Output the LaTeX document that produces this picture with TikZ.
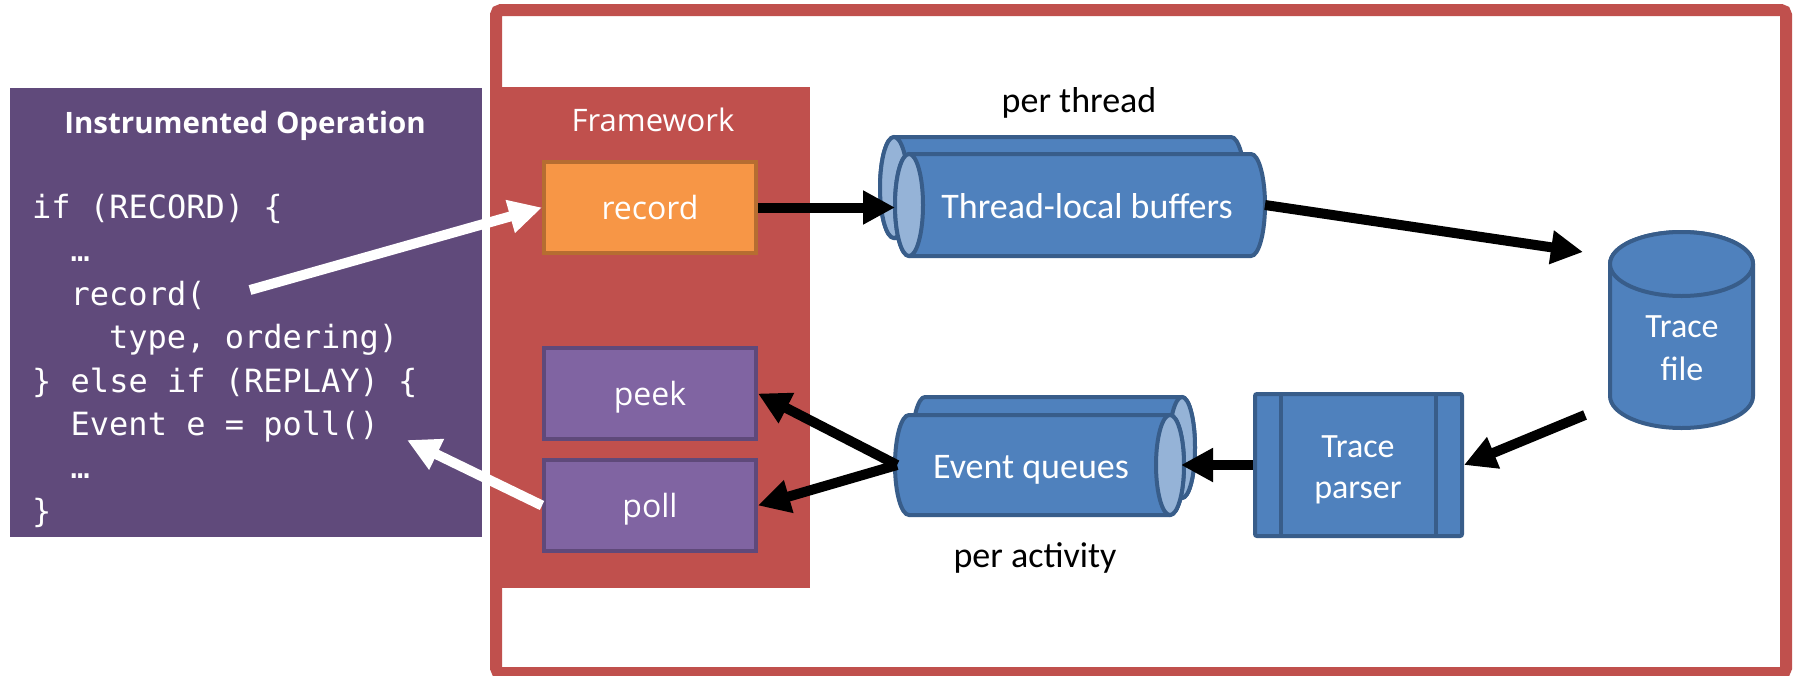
\documentclass[tikz,border=0pt]{standalone}
\usepackage{fontspec}
\setmainfont{Open Sans}
\newfontfamily\osfont{Open Sans}
\newfontfamily\calfont{Carlito}
\newfontfamily\codefont{DejaVu Sans Mono}
\usetikzlibrary{arrows.meta}
\definecolor{frameRed}{HTML}{C0504D}
\definecolor{codePurple}{HTML}{604A7B}
\definecolor{orangeF}{HTML}{F79646}
\definecolor{orangeD}{HTML}{B66D31}
\definecolor{purpF}{HTML}{8064A2}
\definecolor{purpD}{HTML}{5F497A}
\definecolor{blueF}{HTML}{4F81BD}
\definecolor{blueD}{HTML}{385D8A}
\definecolor{blueL}{HTML}{95B3D7}
\begin{document}
\begin{tikzpicture}[x=1pt,y=1pt,
  fwbox/.style={rectangle, minimum width=212pt, minimum height=91pt, inner sep=0pt,
    line width=4pt, text=white, font=\osfont\fontsize{32}{38}\selectfont,
    text height=23pt, text depth=0pt},
  recbox/.style={fwbox, fill=orangeF, draw=orangeD},
  ppbox/.style={fwbox, fill=purpF, draw=purpD},
  blk/.style={line width=10pt, draw=black, -{Triangle[length=32pt,width=32pt]}},
  wht/.style={line width=10pt, draw=white, -{Triangle[length=33pt,width=32pt]}},
  cyl/.style={fill=blueF, draw=blueD, line width=4pt},
  face/.style={fill=blueL, draw=blueD, line width=4pt},
  inlbl/.style={anchor=base, inner sep=0pt, text=white, font=\calfont\fontsize{36}{40}\selectfont},
  inlbls/.style={anchor=base, inner sep=0pt, text=white, font=\calfont\fontsize{34}{38}\selectfont},
  outlbl/.style={anchor=base, inner sep=0pt, text=black, font=\calfont\fontsize{36}{40}\selectfont},
  codeln/.style={anchor=base west, inner sep=0pt, text=white, font=\codefont\fontsize{32}{38}\selectfont}
]
\useasboundingbox (0,0) rectangle (1799,-675);
\fill[white] (0,0) rectangle (1799,-675);

% outer frame
\draw[frameRed, line width=12pt, rounded corners=5pt] (496,-10) rectangle (1786,-673);
% framework panel
\fill[frameRed] (490,-87) rectangle (810,-588);
\node[anchor=base, inner sep=0pt, text=white, font=\osfont\fontsize{31}{36}\selectfont] (fwlbl) at (653,-131) {Framework};

% code panel
\fill[codePurple] (10,-88) rectangle (482,-537);
\node[anchor=base, inner sep=0pt, text=white, font=\osfont\bfseries\fontsize{29.5}{34}\selectfont] (title) at (245,-133) {Instrumented Operation};
\node[codeln] (c1) at (32,-218) {if (RECORD) \{};
\node[codeln] (c2) at (70.5,-261) {…};
\node[codeln] (c3) at (70.5,-305) {record(};
\node[codeln] (c4) at (109,-348) {type, ordering)};
\node[codeln] (c5) at (32,-392) {\} else if (REPLAY) \{};
\node[codeln] (c6) at (70.5,-435) {Event e = poll()};
\node[codeln] (c7) at (70.5,-478) {…};
\node[codeln] (c8) at (32,-522) {\}};

% framework boxes
\node[recbox] (rec) at (650,-207.5) {record};
\node[ppbox] (peek) at (650,-393.5) {peek};
\node[ppbox] (poll) at (650,-505.5) {poll};

% thread-local buffers (two cylinders)
\path[cyl] (894,-137) -- (1231,-137) arc[start angle=90,end angle=-90,x radius=14,y radius=50.5]
  -- (894,-238) arc[start angle=270,end angle=90,x radius=14,y radius=50.5] -- cycle;
\path[face] (894,-187.5) ellipse[x radius=14,y radius=50.5];
\path[cyl] (909,-154) -- (1251,-154) arc[start angle=90,end angle=-90,x radius=14,y radius=51]
  -- (909,-256) arc[start angle=270,end angle=90,x radius=14,y radius=51] -- cycle;
\path[face] (909,-205) ellipse[x radius=14,y radius=51];
\node[inlbl] (tlbl) at (1087,-218) {Thread-local buffers};
\node[outlbl] (perthr) at (1079,-112) {per thread};

% event queues (two cylinders)
\path[cyl] (925,-397) -- (1182,-397) arc[start angle=90,end angle=-90,x radius=13,y radius=50.5]
  -- (925,-498) arc[start angle=270,end angle=90,x radius=13,y radius=50.5] -- cycle;
\path[face] (1182,-447.5) ellipse[x radius=13,y radius=50.5];
\path[cyl] (909,-415) -- (1170,-415) arc[start angle=90,end angle=-90,x radius=14,y radius=50]
  -- (909,-515) arc[start angle=270,end angle=90,x radius=14,y radius=50] -- cycle;
\path[face] (1170,-465) ellipse[x radius=14,y radius=50];
\node[inlbl] (eqlbl) at (1031,-478) {Event queues};
\node[outlbl] (peract) at (1035,-567) {per activity};

% trace file
\path[cyl] (1610,-264) -- (1610,-396) arc[start angle=180,end angle=360,x radius=71.5,y radius=32]
  -- (1753,-264) arc[start angle=0,end angle=180,x radius=71.5,y radius=32] -- cycle;
\path[cyl] (1681.5,-264) ellipse[x radius=71.5,y radius=32];
\node[inlbls] (tf1) at (1682,-337) {Trace};
\node[inlbls] (tf2) at (1682,-380) {file};

% trace parser
\node[rectangle, minimum width=207pt, minimum height=142pt, inner sep=0pt, fill=blueF,
  draw=blueD, line width=4pt, rounded corners=2pt] (tp) at (1358.5,-465) {};
\draw[blueD, line width=4pt] (1281,-394) -- (1281,-536) (1436,-394) -- (1436,-536);
\node[inlbls] (tp1) at (1358,-457) {Trace};
\node[inlbls] (tp2) at (1358,-498) {parser};

% connector end points
\coordinate (tlin) at (895,-207.5);
\coordinate (tlout) at (1265,-205);
\coordinate (tfin) at (1583,-252);
\coordinate (tfout) at (1585,-415);
\coordinate (eqin) at (1181,-465);
\coordinate (eqout) at (897,-465);
\coordinate (wa1) at (250,-290);
\coordinate (wa2) at (407,-440);

% black connectors
\draw[blk] (rec.east) -- (tlin);
\draw[blk] (tlout) -- (tfin);
\draw[blk] (tfout) -- (tp.east);
\draw[blk] (tp.west) -- (eqin);
\draw[blk] (eqout) -- (peek.east);
\draw[blk] (eqout) -- (poll.east);
% white connectors
\draw[wht] (wa1) -- (rec.west);
\draw[wht] (poll.west) -- (wa2);
\end{tikzpicture}
\end{document}
